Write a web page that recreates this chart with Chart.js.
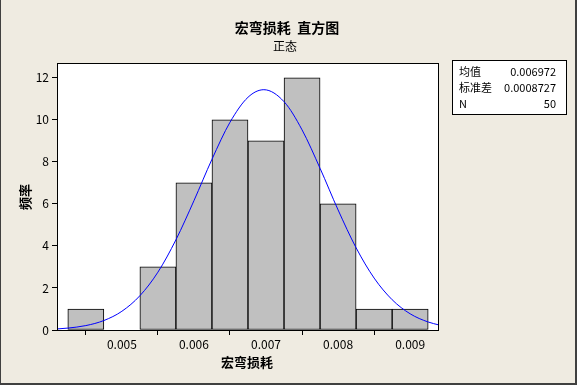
<!DOCTYPE html>
<html><head><meta charset="utf-8">
<script src="https://cdn.jsdelivr.net/npm/chart.js@4.4.1/dist/chart.umd.min.js"></script>
<style>html,body{margin:0;padding:0;background:#EFEBE1;}canvas{display:block;}</style>
</head><body>
<canvas id="c" width="577" height="385"></canvas>
<script>
// Histogram bins (centers) and frequencies
const binCenters = [0.0045, 0.0050, 0.0055, 0.0060, 0.0065, 0.0070, 0.0075, 0.0080, 0.0085, 0.0090];
const frequencies = [1, 0, 3, 7, 10, 9, 12, 6, 1, 1];
// Fitted normal curve
const curveX = [0.0041, 0.00425, 0.0045, 0.00475, 0.0050, 0.00525, 0.0055, 0.00575, 0.0060, 0.00625, 0.0065, 0.00675, 0.00697, 0.00725, 0.0075, 0.00775, 0.0080, 0.00825, 0.0085, 0.00875, 0.0090, 0.00925, 0.0094];
const curveY = [0.05, 0.09, 0.21, 0.45, 0.89, 1.63, 2.75, 4.29, 6.15, 8.12, 9.88, 11.07, 11.43, 10.86, 9.52, 7.69, 5.71, 3.91, 2.47, 1.44, 0.77, 0.38, 0.24];
const xTicks = [0.005, 0.006, 0.007, 0.008, 0.009];
const yTicks = [0, 2, 4, 6, 8, 10, 12];
const statLabels = ['均值', '标准差', 'N'];
const statValues = ['0.006972', '0.0008727', '50'];
const titleText = '宏弯损耗  直方图';
const subtitleText = '正态';
const xTitle = '宏弯损耗';
const yTitle = '频率';

const FONT = '"Noto Sans CJK SC", "DejaVu Sans", sans-serif';

const deco = {
  id: 'deco',
  beforeDraw(chart) {
    const ctx = chart.ctx, a = chart.chartArea;
    ctx.save();
    ctx.fillStyle = '#EFEBE1';
    ctx.fillRect(0, 0, chart.width, chart.height);
    ctx.fillStyle = '#FFFFFF';
    ctx.fillRect(a.left, a.top, a.right - a.left, a.bottom - a.top);
    ctx.restore();
  },
  afterDraw(chart) {
    const ctx = chart.ctx, a = chart.chartArea;
    ctx.save();
    // plot frame
    ctx.strokeStyle = '#000';
    ctx.lineWidth = 1;
    ctx.strokeRect(Math.round(a.left) + 0.5, Math.round(a.top) + 0.5, Math.round(a.right - a.left) - 1, Math.round(a.bottom - a.top));
    // titles
    ctx.fillStyle = '#000';
    ctx.textAlign = 'center';
    ctx.textBaseline = 'middle';
    ctx.font = 'bold 14px ' + FONT;
    ctx.fillText(titleText, 287, 28);
    ctx.font = '12px ' + FONT;
    ctx.fillText(subtitleText, 285, 46);
    ctx.font = 'bold 13px ' + FONT;
    ctx.fillText(xTitle, 247, 362);
    ctx.save();
    ctx.translate(25, 197);
    ctx.rotate(-Math.PI / 2);
    ctx.fillText(yTitle, 0, 0);
    ctx.restore();
    // stats box
    ctx.fillStyle = '#FFFFFF';
    ctx.fillRect(452, 60, 114, 54);
    ctx.strokeStyle = '#000';
    ctx.strokeRect(452.5, 60.5, 114, 54);
    ctx.fillStyle = '#000';
    ctx.font = '11px ' + FONT;
    const rows = [72, 88, 104];
    for (let i = 0; i < statLabels.length; i++) {
      ctx.textAlign = 'left';
      ctx.fillText(statLabels[i], 459, rows[i]);
      ctx.textAlign = 'right';
      ctx.fillText(statValues[i], 556, rows[i]);
    }
    // window frame
    ctx.fillStyle = '#404040';
    ctx.fillRect(0, 0, 1, chart.height);
    ctx.fillRect(chart.width - 2, 0, 2, chart.height);
    ctx.fillRect(0, chart.height - 2, chart.width, 2);
    ctx.restore();
  }
};

new Chart(document.getElementById('c'), {
  type: 'bar',
  data: {
    datasets: [
      {
        type: 'line',
        data: curveX.map((x, i) => ({ x: x, y: curveY[i] })),
        borderColor: '#0000FF',
        borderWidth: 1,
        pointRadius: 0,
        fill: false,
        cubicInterpolationMode: 'monotone',
        order: 0
      },
      {
        type: 'bar',
        data: binCenters.map((x, i) => ({ x: x, y: frequencies[i] })),
        backgroundColor: '#C0C0C0',
        borderColor: '#000000',
        borderWidth: 1,
        borderSkipped: false,
        barPercentage: 1,
        categoryPercentage: 1,
        order: 1
      }
    ]
  },
  options: {
    responsive: false,
    animation: false,
    devicePixelRatio: 1,
    layout: { padding: { left: 20, top: 63, right: 138, bottom: 25 } },
    plugins: { legend: { display: false }, tooltip: { enabled: false }, title: { display: false } },
    scales: {
      x: {
        type: 'linear',
        min: 0.0041,
        max: 0.0094,
        offset: false,
        afterFit(s) { s.height = 30; },
        afterBuildTicks(s) { s.ticks = xTicks.map(v => ({ value: v })); },
        ticks: {
          color: '#000',
          font: { family: FONT, size: 12 },
          padding: 2,
          maxRotation: 0,
          callback: v => Number(v).toFixed(3)
        },
        grid: { display: true, drawOnChartArea: false, drawTicks: true, tickLength: 5, color: '#000' },
        border: { display: false }
      },
      y: {
        type: 'linear',
        min: 0,
        max: 12.7,
        afterFit(s) { s.width = 37; },
        afterBuildTicks(s) { s.ticks = yTicks.map(v => ({ value: v })); },
        ticks: {
          color: '#000',
          font: { family: FONT, size: 12 },
          padding: 3
        },
        grid: { display: true, drawOnChartArea: false, drawTicks: true, tickLength: 5, color: '#000' },
        border: { display: false }
      }
    }
  },
  plugins: [deco]
});
</script>
</body></html>
